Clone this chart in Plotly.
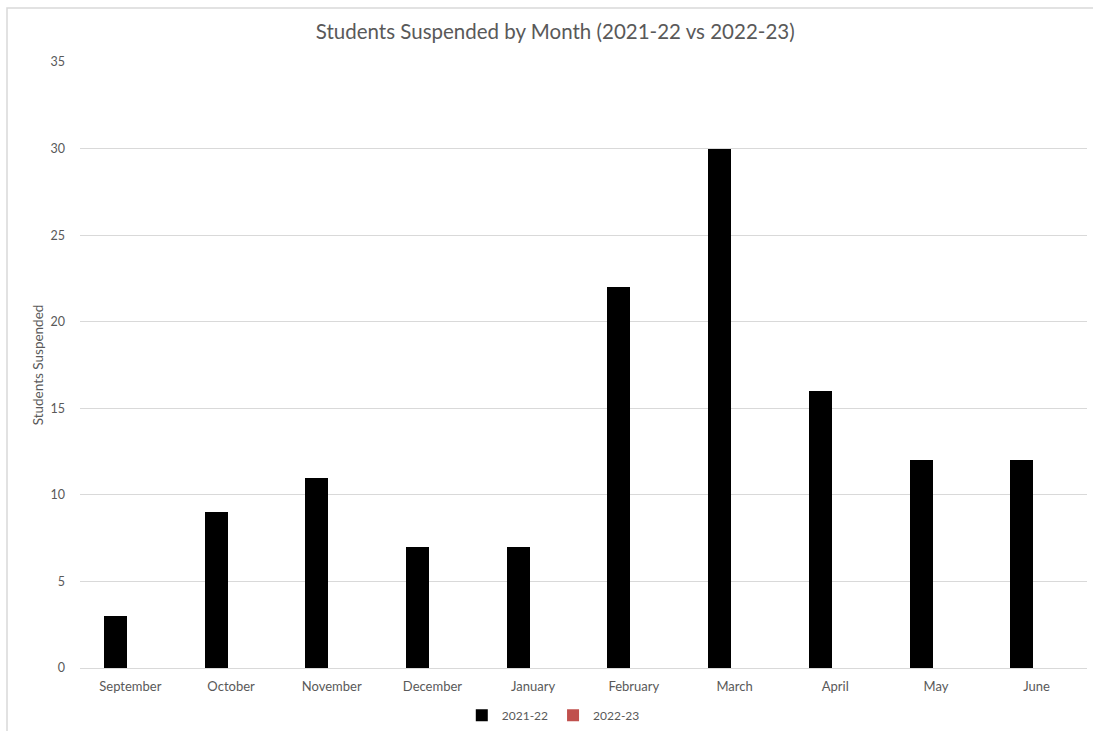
import plotly.graph_objects as go

months = ["September", "October", "November", "December", "January",
          "February", "March", "April", "May", "June"]
s2021_22 = [3, 9, 11, 7, 7, 22, 30, 16, 12, 12]
s2022_23 = [None] * 10
y_ticks = [0, 5, 10, 15, 20, 25, 30, 35]

FONT = "Lato"
GREY = "#595959"

fig = go.Figure()
fig.add_trace(go.Bar(x=months, y=s2021_22, name="2021-22",
                     marker=dict(color="#000000", line=dict(width=0)),
                     width=0.228, offset=-0.262))
fig.add_trace(go.Bar(x=months, y=s2022_23, name="2022-23",
                     marker=dict(color="#C0504D", line=dict(width=0)),
                     width=0.228, offset=0.0))

fig.update_layout(
    width=1093, height=731,
    margin=dict(l=80, r=6, t=62, b=63, autoexpand=False),
    paper_bgcolor="white", plot_bgcolor="white",
    barmode="overlay",
    title=dict(text="Students Suspended by Month (2021-22 vs 2022-23)",
               x=0.508, xanchor="center", y=0.956, yanchor="middle",
               font=dict(family=FONT, size=20.5, color=GREY)),
    font=dict(family=FONT, size=13, color=GREY),
    xaxis=dict(type="category", showgrid=False, showline=True,
               linecolor="#D9D9D9", linewidth=1, ticks="",
               ticklabelstandoff=6, automargin=False,
               tickfont=dict(size=13, color=GREY)),
    yaxis=dict(range=[0, 35], tickvals=y_ticks, showgrid=True,
               gridcolor="#D9D9D9", gridwidth=1, zeroline=False,
               showline=False, ticks="", ticklabelstandoff=14,
               automargin=False,
               tickfont=dict(size=12.5, color=GREY),
               title=dict(text="Students Suspended", standoff=3,
                          font=dict(size=13.5, color=GREY))),
    legend=dict(orientation="h", x=0.47, xanchor="center", y=-0.078,
                yanchor="middle", font=dict(size=12, color=GREY),
                itemwidth=30, traceorder="normal"),
    bargap=0,
)

fig.add_shape(type="rect", xref="paper", yref="paper",
              x0=-0.0725, x1=1.2, y0=-0.2, y1=1.089,
              line=dict(color="#D9D9D9", width=1.5), layer="below")

fig.write_html("out.html")
